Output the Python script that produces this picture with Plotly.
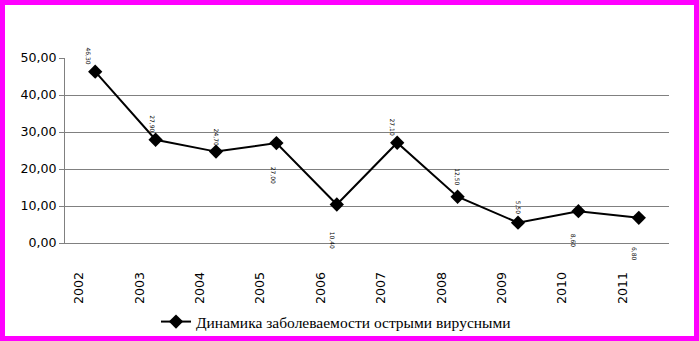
import plotly.graph_objects as go

# Incidence rate by year
years = ["2002", "2003", "2004", "2005", "2006", "2007", "2008", "2009", "2010", "2011"]
rates = [46.3, 27.9, 24.7, 27.0, 10.4, 27.1, 12.5, 5.5, 8.6, 6.8]
series_name = "Динамика заболеваемости острыми вирусными"
y_ticks = [0, 10, 20, 30, 40, 50]

W, H = 699, 341
M_L, M_R, M_T, M_B = 65, 30, 58, 98
PW, PH = W - M_L - M_R, H - M_T - M_B

# small rotated value labels: (dx, dy) pixel offsets from each marker
label_offsets = [(-7, 16), (-3, 16), (0, 15), (-3, -32), (-4, -36),
                 (-5, 16), (0, 20), (0, 15), (-5, -30), (-5, -36)]

fig = go.Figure()
fig.add_trace(go.Scatter(
    x=years, y=rates, name=series_name,
    mode="lines+markers",
    line=dict(color="black", width=2),
    marker=dict(symbol="diamond", size=11, color="black"),
    cliponaxis=False,
))

# on a category axis, annotation x is given as the category index
value_labels = [
    dict(
        x=i, y=v, xref="x", yref="y",
        text=f"{v:.2f}".replace(".", ","),
        showarrow=False, textangle=90,
        xshift=dx, yshift=dy,
        font=dict(family="DejaVu Sans", size=6, color="black"),
    )
    for i, (v, (dx, dy)) in enumerate(zip(rates, label_offsets))
]

# magenta frame around the whole figure
def px_x(p):
    return (p - M_L) / PW

def px_y(p):
    return (H - M_B - p) / PH

fig.add_shape(type="rect", xref="paper", yref="paper",
              x0=px_x(2.5), x1=px_x(696.5), y0=px_y(2.5), y1=px_y(338.5),
              line=dict(color="#FF00FF", width=5), fillcolor="rgba(0,0,0,0)",
              layer="above")

fig.update_layout(
    width=W, height=H,
    annotations=value_labels,
    margin=dict(l=M_L, r=M_R, t=M_T, b=M_B, pad=0, autoexpand=False),
    paper_bgcolor="white", plot_bgcolor="white",
    separators=", ",
    showlegend=True,
    legend=dict(
        x=px_x(156), y=px_y(305), xanchor="left", yanchor="top",
        font=dict(family="Liberation Serif", size=15.5, color="black"),
        bgcolor="rgba(0,0,0,0)", itemwidth=30,
    ),
    xaxis=dict(
        type="category", range=[-0.5, 9.5],
        showgrid=False, showline=True, linecolor="#808080", linewidth=1,
        ticks="", tickangle=-90,
        ticklabelshift=-16, ticklabelstandoff=23,
        tickfont=dict(family="DejaVu Sans", size=12.6, color="black"),
        fixedrange=True, automargin=False,
    ),
    yaxis=dict(
        range=[0, 50], tickvals=y_ticks, tickformat=".2f",
        showgrid=True, gridcolor="#808080", gridwidth=1,
        showline=True, linecolor="#808080", linewidth=1,
        ticks="outside", ticklen=5, tickcolor="#808080",
        zeroline=False,
        tickfont=dict(family="DejaVu Sans", size=12.6, color="black"),
        fixedrange=True, automargin=False,
    ),
)

fig.write_html("out.html")
